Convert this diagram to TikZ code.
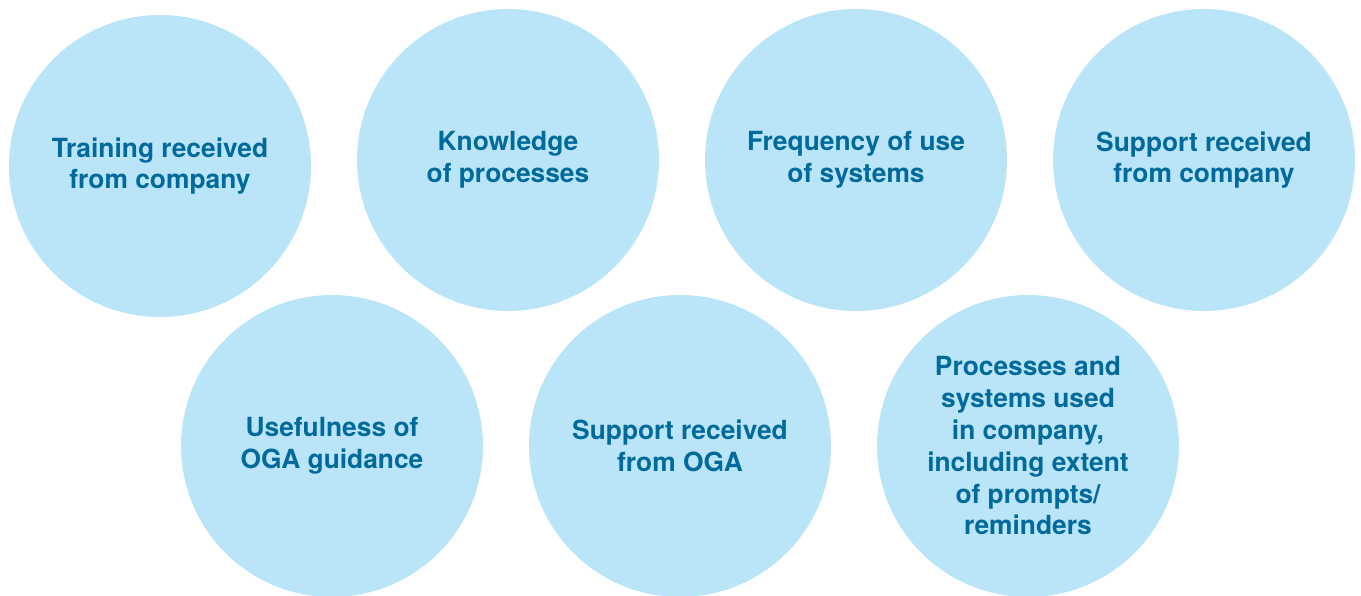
\documentclass[tikz,border=0pt]{standalone}
\usepackage{fontspec}
\setmainfont{TeX Gyre Heros}
\usepackage{xcolor}
\usepackage{tikz}
\usetikzlibrary{shapes}
\definecolor{bubblefill}{HTML}{BAE4F7}
\definecolor{bubbletext}{HTML}{006A9C}
\tikzstyle{bubble} = [circle, fill=bubblefill, text=bubbletext, inner sep=0pt, minimum size=6.04cm, align=center, font=\fontsize{15}{18.1}\selectfont\bfseries]

\begin{document}
\begin{tikzpicture}[x=0.02cm,y=0.02cm]
\useasboundingbox (0,0) rectangle (1361,-595);
\node [bubble] (training) at (160,-166) {Training received\\from company};
\node [bubble] (knowledge) at (508,-160) {Knowledge\\of processes};
\node [bubble] (frequency) at (856,-160) {Frequency of use\\of systems};
\node [bubble] (supportco) at (1204,-160) {Support received\\from company};
\node [bubble] (usefulness) at (332,-446) {Usefulness of\\OGA guidance};
\node [bubble] (supportoga) at (680,-446) {Support received\\from OGA};
\node [bubble] (processes) at (1028,-446) {Processes and\\systems used\\in company,\\including extent\\of prompts/\\reminders};
\end{tikzpicture}
\end{document}
